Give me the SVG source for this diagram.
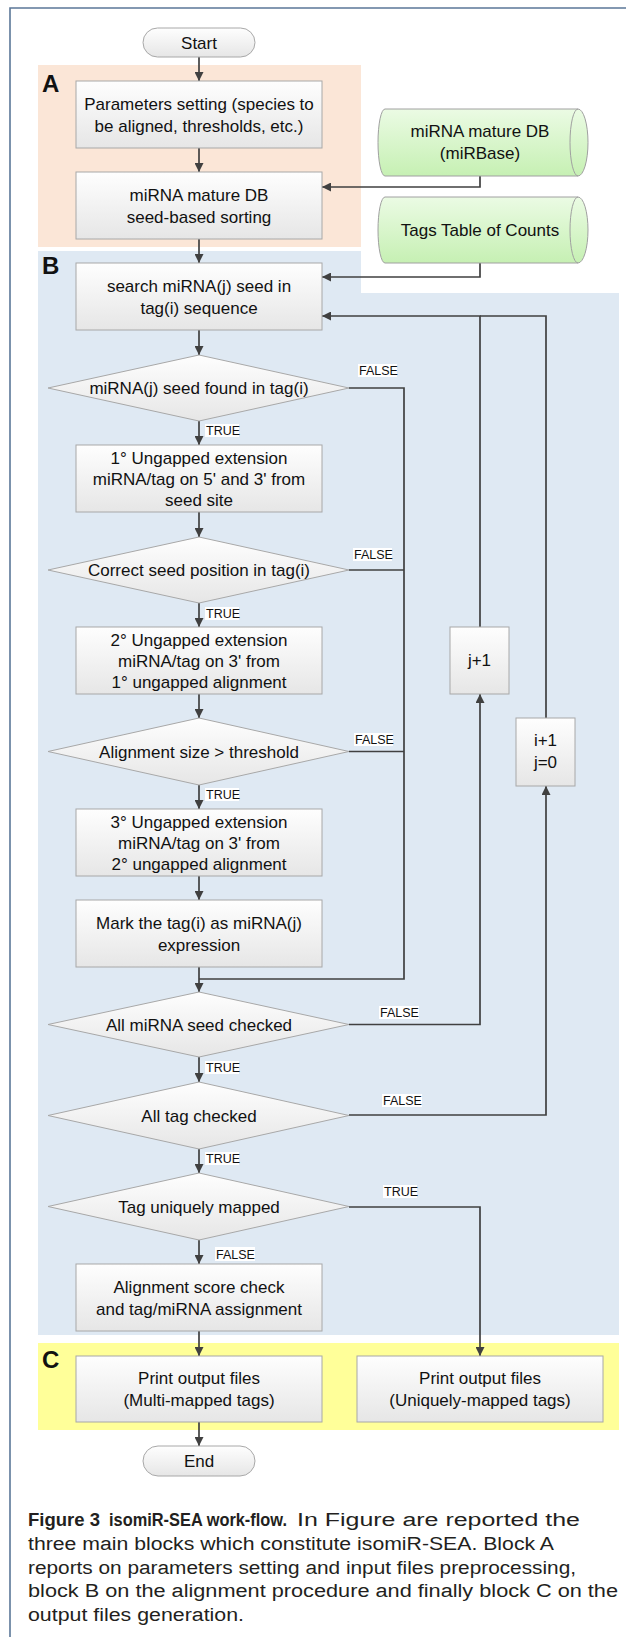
<svg xmlns="http://www.w3.org/2000/svg" width="626" height="1637" viewBox="0 0 626 1637">
<defs>
<linearGradient id="gBox" x1="0" y1="0" x2="0" y2="1"><stop offset="0" stop-color="#fefefe"/><stop offset="1" stop-color="#e6e6e6"/></linearGradient>
<linearGradient id="gDb" x1="0" y1="0" x2="0" y2="1"><stop offset="0" stop-color="#ebfbe4"/><stop offset="1" stop-color="#c6f0b3"/></linearGradient>
<marker id="ah" viewBox="0 0 10 10" refX="10" refY="5" markerWidth="9" markerHeight="9" markerUnits="userSpaceOnUse" orient="auto"><path d="M0,0 L10,5 L0,10 Z" fill="#404040"/></marker>
<style>
.box{fill:url(#gBox);stroke:#a8a8a8;stroke-width:1}
.db{fill:url(#gDb);stroke:#a0a0a0;stroke-width:1}
.t{font-family:"Liberation Sans",Arial,sans-serif;font-size:17px;fill:#111;text-anchor:middle}
.lbl{font-family:"Liberation Sans",Arial,sans-serif;font-size:12.5px;fill:#111}
.lblbg{fill:#ffffff}
.blk{font-family:"Liberation Sans",Arial,sans-serif;font-size:24px;font-weight:bold;fill:#111}
.c{fill:none;stroke:#404040;stroke-width:1.7}
.a{marker-end:url(#ah)}
.cap{font-family:"Liberation Sans",Arial,sans-serif;font-size:18px;fill:#231f20}
</style>
</defs>
<rect width="626" height="1637" fill="#ffffff"/>
<path d="M10,1637 V8 H626" fill="none" stroke="#5b7798" stroke-width="1.6"/>
<!-- blocks -->
<g id="blockA"><rect x="38" y="65" width="323" height="182" fill="#fbe6d7"/><text class="blk" x="42" y="92">A</text></g>
<g id="blockB"><path d="M38,251 H361 V293 H619 V1335 H38 Z" fill="#dfe9f3"/><text class="blk" x="42" y="274">B</text></g>
<g id="blockC"><rect x="38" y="1343" width="581" height="87" fill="#ffff99"/><text class="blk" x="42" y="1368">C</text></g>

<g id="connectors">
<path class="c a" d="M199,57 V81"/>
<path class="c a" d="M199,148 V172"/>
<path class="c a" d="M480,176 V187 H322"/>
<path class="c a" d="M199,239 V263"/>
<path class="c a" d="M480,263 V277 H322"/>
<path class="c a" d="M199,330 V355"/>
<path class="c a" d="M199,421 V445"/>
<path class="c a" d="M199,512 V537"/>
<path class="c a" d="M199,603 V627"/>
<path class="c a" d="M199,694 V718"/>
<path class="c a" d="M199,785 V809"/>
<path class="c a" d="M199,876 V900"/>
<path class="c a" d="M199,967 V992"/>
<path class="c" d="M349,388 H404 V979 H199"/>
<path class="c" d="M349,570 H404"/>
<path class="c" d="M349,751.5 H404"/>
<path class="c a" d="M349,1024.5 H480 V694"/>
<path class="c a" d="M480,627 V316 H322"/>
<path class="c a" d="M349,1115 H546 V786"/>
<path class="c" d="M546,718 V316 H480"/>
<path class="c a" d="M199,1057 V1082"/>
<path class="c a" d="M199,1149 V1173"/>
<path class="c a" d="M349,1207 H480 V1356"/>
<path class="c a" d="M199,1240 V1264"/>
<path class="c a" d="M199,1331 V1356"/>
<path class="c a" d="M199,1422 V1446"/>
<!-- labels -->
<rect class="lblbg" x="358" y="364" width="39" height="13"/><text class="lbl" x="359" y="375">FALSE</text>
<rect class="lblbg" x="205" y="424" width="34" height="13"/><text class="lbl" x="206" y="435">TRUE</text>
<rect class="lblbg" x="353" y="548" width="39" height="13"/><text class="lbl" x="354" y="559">FALSE</text>
<rect class="lblbg" x="205" y="607" width="34" height="13"/><text class="lbl" x="206" y="618">TRUE</text>
<rect class="lblbg" x="354" y="733" width="39" height="13"/><text class="lbl" x="355" y="744">FALSE</text>
<rect class="lblbg" x="205" y="788" width="34" height="13"/><text class="lbl" x="206" y="799">TRUE</text>
<rect class="lblbg" x="379" y="1006" width="40" height="13"/><text class="lbl" x="380" y="1017">FALSE</text>
<rect class="lblbg" x="205" y="1061" width="34" height="13"/><text class="lbl" x="206" y="1072">TRUE</text>
<rect class="lblbg" x="382" y="1094" width="40" height="13"/><text class="lbl" x="383" y="1105">FALSE</text>
<rect class="lblbg" x="205" y="1152" width="34" height="13"/><text class="lbl" x="206" y="1163">TRUE</text>
<rect class="lblbg" x="383" y="1185" width="34" height="13"/><text class="lbl" x="384" y="1196">TRUE</text>
<rect class="lblbg" x="215" y="1247" width="40" height="14"/><text class="lbl" x="216" y="1259">FALSE</text>
</g>

<g id="start"><rect class="box" x="143" y="28" width="112" height="29" rx="14.5"/><text class="t" x="199" y="49">Start</text></g>
<g id="params"><rect class="box" x="76" y="81" width="246" height="67"/><text class="t" x="199" y="110">Parameters setting (species to</text><text class="t" x="199" y="132">be aligned, thresholds, etc.)</text></g>
<g id="sorting"><rect class="box" x="76" y="172" width="246" height="67"/><text class="t" x="199" y="201">miRNA mature DB</text><text class="t" x="199" y="223">seed-based sorting</text></g>
<g id="db1"><path class="db" d="M385,109 H578 A10,33.5 0 0 1 578,176 H385 A7,33.5 0 0 1 385,109 Z"/><path d="M578,109 A8,33.5 0 0 0 578,176" fill="none" stroke="#a0a0a0"/><text class="t" x="480" y="137">miRNA mature DB</text><text class="t" x="480" y="159">(miRBase)</text></g>
<g id="db2"><path class="db" d="M385,197 H578 A10,33 0 0 1 578,263 H385 A7,33 0 0 1 385,197 Z"/><path d="M578,197 A8,33 0 0 0 578,263" fill="none" stroke="#a0a0a0"/><text class="t" x="480" y="236">Tags Table of Counts</text></g>
<g id="search"><rect class="box" x="76" y="263" width="246" height="67"/><text class="t" x="199" y="292">search miRNA(j) seed in</text><text class="t" x="199" y="314">tag(i) sequence</text></g>
<g id="d1"><polygon class="box" points="48,388 199,355 349,388 199,421"/><text class="t" x="199" y="394">miRNA(j) seed found in tag(i)</text></g>
<g id="ext1"><rect class="box" x="76" y="445" width="246" height="67"/><text class="t" x="199" y="464">1° Ungapped extension</text><text class="t" x="199" y="485">miRNA/tag on 5' and 3' from</text><text class="t" x="199" y="506">seed site</text></g>
<g id="d2"><polygon class="box" points="48,570 199,537 349,570 199,603"/><text class="t" x="199" y="576">Correct seed position in tag(i)</text></g>
<g id="ext2"><rect class="box" x="76" y="627" width="246" height="67"/><text class="t" x="199" y="646">2° Ungapped extension</text><text class="t" x="199" y="667">miRNA/tag on 3' from</text><text class="t" x="199" y="688">1° ungapped alignment</text></g>
<g id="jplus"><rect class="box" x="450" y="627" width="59" height="67"/><text class="t" x="479.5" y="666">j+1</text></g>
<g id="d3"><polygon class="box" points="48,751.5 199,718 349,751.5 199,785"/><text class="t" x="199" y="757.5">Alignment size &gt; threshold</text></g>
<g id="iplus"><rect class="box" x="516" y="718" width="59" height="68"/><text class="t" x="545.5" y="746">i+1</text><text class="t" x="545.5" y="768">j=0</text></g>
<g id="ext3"><rect class="box" x="76" y="809" width="246" height="67"/><text class="t" x="199" y="828">3° Ungapped extension</text><text class="t" x="199" y="849">miRNA/tag on 3' from</text><text class="t" x="199" y="870">2° ungapped alignment</text></g>
<g id="mark"><rect class="box" x="76" y="900" width="246" height="67"/><text class="t" x="199" y="929">Mark the tag(i) as miRNA(j)</text><text class="t" x="199" y="951">expression</text></g>
<g id="d4"><polygon class="box" points="48,1024.5 199,992 349,1024.5 199,1057"/><text class="t" x="199" y="1030.5">All miRNA seed checked</text></g>
<g id="d5"><polygon class="box" points="48,1115.5 199,1082 349,1115.5 199,1149"/><text class="t" x="199" y="1121.5">All tag checked</text></g>
<g id="d6"><polygon class="box" points="48,1206.5 199,1173 349,1206.5 199,1240"/><text class="t" x="199" y="1212.5">Tag uniquely mapped</text></g>
<g id="score"><rect class="box" x="76" y="1264" width="246" height="67"/><text class="t" x="199" y="1293">Alignment score check</text><text class="t" x="199" y="1315">and tag/miRNA assignment</text></g>
<g id="printMulti"><rect class="box" x="76" y="1356" width="246" height="66"/><text class="t" x="199" y="1384">Print output files</text><text class="t" x="199" y="1406">(Multi-mapped tags)</text></g>
<g id="printUnique"><rect class="box" x="357" y="1356" width="246" height="66"/><text class="t" x="480" y="1384">Print output files</text><text class="t" x="480" y="1406">(Uniquely-mapped tags)</text></g>
<g id="end"><rect class="box" x="143" y="1446" width="112" height="30" rx="15"/><text class="t" x="199" y="1467">End</text></g>

<g id="caption">
<text class="cap" x="28" y="1526" font-weight="bold" textLength="72" lengthAdjust="spacingAndGlyphs">Figure 3</text>
<text class="cap" x="109" y="1526" font-weight="bold" textLength="178" lengthAdjust="spacingAndGlyphs">isomiR-SEA work-flow.</text>
<text class="cap" x="297" y="1526" textLength="283" lengthAdjust="spacingAndGlyphs">In Figure are reported the</text>
<text class="cap" x="28" y="1550" textLength="526" lengthAdjust="spacingAndGlyphs">three main blocks which constitute isomiR-SEA. Block A</text>
<text class="cap" x="28" y="1574" textLength="548" lengthAdjust="spacingAndGlyphs">reports on parameters setting and input files preprocessing,</text>
<text class="cap" x="28" y="1597" textLength="590" lengthAdjust="spacingAndGlyphs">block B on the alignment procedure and finally block C on the</text>
<text class="cap" x="28" y="1621" textLength="216" lengthAdjust="spacingAndGlyphs">output files generation.</text>
</g>
</svg>
